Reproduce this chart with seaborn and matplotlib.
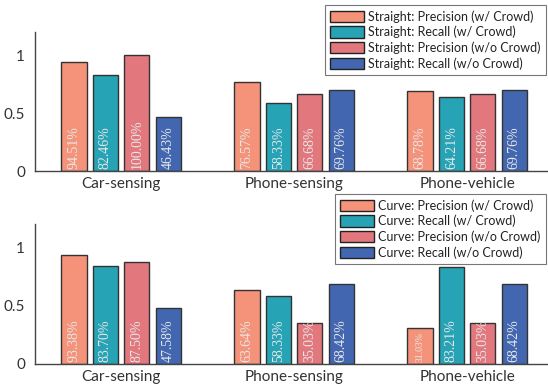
import matplotlib
matplotlib.use("Agg")
import matplotlib.pyplot as plt
import numpy as np
import pandas as pd
import seaborn as sns
from matplotlib.patches import Patch

# data
groups = ["Car-sensing", "Phone-sensing", "Phone-vehicle"]
metrics = ["Precision (w/ Crowd)", "Recall (w/ Crowd)",
           "Precision (w/o Crowd)", "Recall (w/o Crowd)"]

straight_prec_w = [0.9451, 0.7657, 0.6878]
straight_rec_w = [0.8246, 0.5833, 0.6421]
straight_prec_wo = [1.0000, 0.6668, 0.6668]
straight_rec_wo = [0.4643, 0.6976, 0.6976]

curve_prec_w = [0.9338, 0.6364, 0.3103]
curve_rec_w = [0.8370, 0.5833, 0.8321]
curve_prec_wo = [0.8750, 0.3503, 0.3503]
curve_rec_wo = [0.4758, 0.6842, 0.6842]

colors = ["#F4937A", "#26A3B5", "#E2787E", "#4267B0"]

sns.set_style("white")
plt.rcParams["font.family"] = ["Lato", "DejaVu Sans"]

fig = plt.figure(figsize=(5.48, 3.90), dpi=100)
ax1 = fig.add_axes([0.0633, 0.5615, 0.947, 0.3565])
ax2 = fig.add_axes([0.0633, 0.0667, 0.947, 0.3590])


def draw(ax, series, prefix, legend_xy):
    rows = []
    for m, vals in zip(metrics, series):
        for g, v in zip(groups, vals):
            rows.append({"group": g, "metric": m, "value": v})
    df = pd.DataFrame(rows)
    sns.barplot(data=df, x="group", y="value", hue="metric", order=groups,
                hue_order=metrics, palette=colors, width=0.727, gap=0.2,
                edgecolor="#333333", linewidth=1.0, saturation=1, ax=ax,
                legend=False)
    # percentage labels inside bars
    for cont in ax.containers:
        for bar in cont:
            h = bar.get_height()
            fs = 7 if h < 0.33 else 10
            ax.text(bar.get_x() + bar.get_width() / 2, 0.02, f"{h*100:.2f}%",
                    rotation=90, ha="center", va="bottom", fontsize=fs,
                    color="#e8e8e8", family=["Liberation Serif"])
    ax.set_xlim(-0.5, 2.5)
    ax.set_ylim(0, 1.2)
    ax.set_yticks([0, 0.5, 1])
    ax.set_yticklabels(["0", "0.5", "1"])
    ax.set_xlabel("")
    ax.set_ylabel("")
    for s in ["top", "right"]:
        ax.spines[s].set_visible(False)
    for s in ["left", "bottom"]:
        ax.spines[s].set_color("#444444")
        ax.spines[s].set_linewidth(1.0)
    ax.tick_params(direction="in", length=3, color="#444444",
                   labelcolor="#333333", labelsize=11, pad=7)
    ax.tick_params(axis="x", pad=4)
    handles = [Patch(facecolor=c, edgecolor="#222222", linewidth=1.0)
               for c in colors]
    labels = [prefix + ": " + m for m in metrics]
    leg = fig.legend(handles, labels, loc="upper left",
                     bbox_to_anchor=legend_xy, fontsize=9,
                     frameon=True, fancybox=False, edgecolor="#555555",
                     handlelength=2.7, handleheight=1.0, handletextpad=0.35,
                     labelspacing=0.26, borderpad=0.4, borderaxespad=0)
    leg.get_frame().set_linewidth(0.8)
    for t in leg.get_texts():
        t.set_color("#222222")


draw(ax1, [straight_prec_w, straight_rec_w, straight_prec_wo, straight_rec_wo],
     "Straight", (325 / 548, 1 - 5 / 390))
draw(ax2, [curve_prec_w, curve_rec_w, curve_prec_wo, curve_rec_wo],
     "Curve", (335 / 548, 1 - 194 / 390))

fig.savefig("out.png", dpi=100)
